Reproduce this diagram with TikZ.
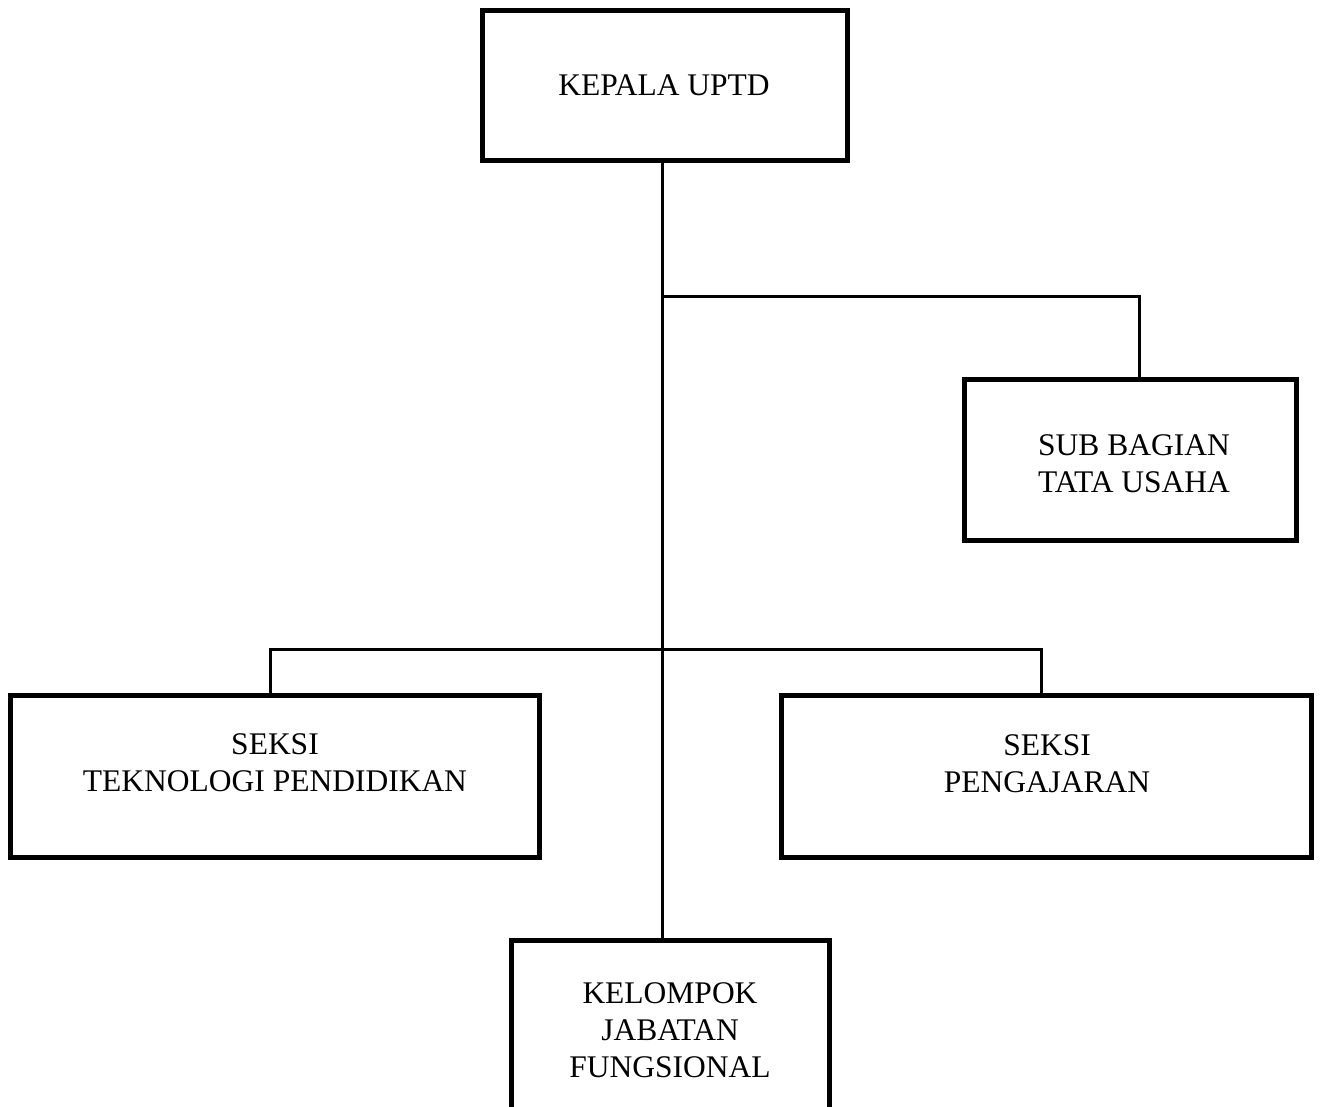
\documentclass[tikz,border=0pt]{standalone}
\usepackage{fontspec}
\setmainfont{Liberation Serif}
\begin{document}
\begin{tikzpicture}[x=1pt,y=-1pt,
  box/.style={draw=black,line width=5pt,rectangle,inner sep=0pt},
  lbl/.style={align=center,inner sep=0pt,font=\fontsize{31.5}{37}\selectfont},
  conn/.style={draw=black,line width=3pt}]
\clip (0,0) rectangle (1320,1106);
\fill[white] (0,0) rectangle (1320,1106);
% boxes
\node[box,minimum width=365pt,minimum height=150pt] (kep) at (665,85.5) {};
\node[box,minimum width=332pt,minimum height=161pt] (sub) at (1130.5,460) {};
\node[box,minimum width=529pt,minimum height=162pt] (tp) at (275,776.5) {};
\node[box,minimum width=530pt,minimum height=162pt] (pg) at (1046.5,776.5) {};
\node[box,minimum width=318pt,minimum height=185pt] (kel) at (670.5,1032.5) {};
% labels
\node[lbl] (kept) at (664,85) {KEPALA UPTD};
\node[lbl] (subt) at (1134,464) {SUB BAGIAN\\TATA USAHA};
\node[lbl] (tpt) at (275,763) {SEKSI\\TEKNOLOGI PENDIDIKAN};
\node[lbl] (pgt) at (1047,764) {SEKSI\\PENGAJARAN};
\node[lbl] (kelt) at (670,1030) {KELOMPOK\\JABATAN\\FUNGSIONAL};
% junction coordinates
\coordinate (j1) at (662,296);
\coordinate (j2) at (662,649);
\coordinate (xs) at (1139,0);
\coordinate (xl) at (270,0);
\coordinate (xr) at (1041,0);
% connectors
\draw[conn] (kep.south -| j1) -- (kel.north -| j1);
\draw[conn] (j1) -| (sub.north -| xs);
\draw[conn] (tp.north -| xl) |- (j2 -| xr) -- (pg.north -| xr);
\end{tikzpicture}
\end{document}
